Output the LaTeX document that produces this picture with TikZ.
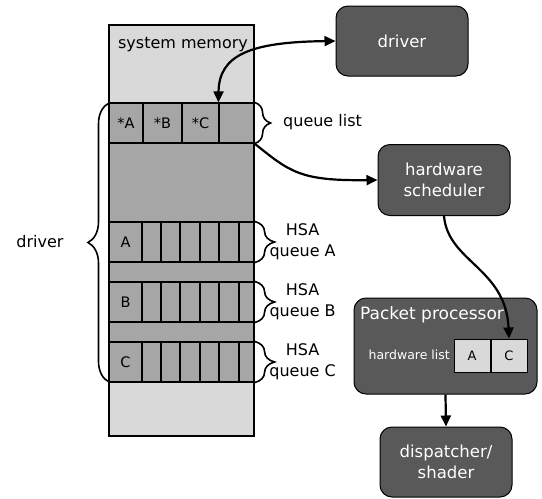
\documentclass[tikz,border=0pt]{standalone}
\usepackage{fontspec}
\setmainfont{DejaVu Sans}
\usetikzlibrary{arrows.meta,decorations.pathreplacing}
\definecolor{lightg}{HTML}{D9D9D9}
\definecolor{midg}{HTML}{A6A6A6}
\definecolor{darkbox}{HTML}{595959}
\tikzset{
  cell/.style={draw=black, line width=1.2pt, fill=midg, minimum height=40pt, inner sep=0pt, font=\fontsize{14.5}{16}\selectfont},
  hwcell/.style={draw=black, line width=1pt, fill=lightg, minimum height=33pt, minimum width=36pt, inner sep=0pt, font=\fontsize{13}{15}\selectfont},
  box/.style={draw=black, line width=1pt, fill=darkbox, rounded corners=12pt, text=white, inner sep=0pt, font=\fontsize{16.5}{21}\selectfont, align=center},
  arr/.style={line width=2.2pt, -{Triangle[length=11pt,width=10pt]}},
  lbl/.style={font=\fontsize{16}{21}\selectfont, inner sep=0pt, align=center},
  brc/.style={decorate, decoration={brace, amplitude=#1}, line width=1.6pt}
}
\begin{document}
\begin{tikzpicture}[x=1pt,y=-1pt]
\useasboundingbox (0,0) rectangle (542,499);
% system memory
\node[fill=lightg, minimum width=145pt, minimum height=411pt, inner sep=0pt] (mem) at (181.5,230.5) {};
\node[fill=midg, minimum width=145pt, minimum height=279pt, inner sep=0pt] (qarea) at (181.5,242.5) {};
\node[lbl] (memlbl) at (183,45) {system memory};
% queue list
\node[cell, minimum width=34pt] (qa) at (126,123) {*A};
\node[cell, minimum width=39pt] (qb) at (162.5,123) {*B};
\node[cell, minimum width=37pt] (qc) at (200.5,123) {*C};
\node[cell, minimum width=35pt] (qe) at (236.5,123) {};
% HSA queues
\foreach \r/\y in {A/242,B/302,C/362}{
  \node[cell, minimum width=33pt] (r\r0) at (125.5,\y) {\r};
  \foreach \a/\b [count=\i] in {142/161,161/180,180/200,200/219,219/239,239/254}{
    \node[cell, minimum width={\b pt-\a pt}] (r\r\i) at ({(\a+\b)/2},\y) {};
  }
}
\draw[line width=1.5pt] (mem.north west) rectangle (mem.south east);
% braces
\coordinate (lbtop) at (109,103);
\coordinate (lbbot) at (109,382);
\draw[brc=21pt] (lbbot) -- (lbtop);
\node[lbl] (drvlbl) at (40,242) {driver};
\draw[brc=16pt] (qe.north east) -- (qe.south east);
\node[lbl, anchor=west] (qlbl) at (283,122) {queue list};
\foreach \r in {A,B,C}{
  \draw[brc=20pt] (r\r6.north east) -- (r\r6.south east);
  \node[lbl, xshift=48pt] (h\r) at (r\r6.east) {HSA\\queue \r};
}
% boxes
\node[box, minimum width=132pt, minimum height=70pt] (driver) at (402,41) {driver};
\node[box, minimum width=132pt, minimum height=71pt] (hws) at (444,180) {hardware\\scheduler};
\node[box, minimum width=183pt, minimum height=96pt] (pp) at (445.5,346) {};
\node[text=white, font=\fontsize{17}{20}\selectfont, anchor=west, inner sep=0pt] (pplbl) at (360,315) {Packet processor};
\node[hwcell] (hwa) at (472,355.5) {A};
\node[hwcell] (hwc) at (509,355.5) {C};
\node[text=white, font=\fontsize{12.5}{15}\selectfont, anchor=east, inner sep=0pt] (hwlbl) at (450,355) {hardware list};
\node[box, minimum width=132pt, minimum height=70pt] (disp) at (446,462) {dispatcher/\\shader};
% arrows
\draw[line width=2.2pt, {Triangle[length=11pt,width=10pt]}-{Triangle[length=11pt,width=10pt]}] (qe.north west) .. controls (219,55) and (250,42) .. (driver.west);
\draw[arr] (qe.south east) .. controls (290,172) and (300,181) .. (hws.west);
\draw[arr] (hws.south) .. controls (448,262) and (506,268) .. (hwc.north);
\draw[arr] (pp.south) -- (disp.north);
\end{tikzpicture}
\end{document}
